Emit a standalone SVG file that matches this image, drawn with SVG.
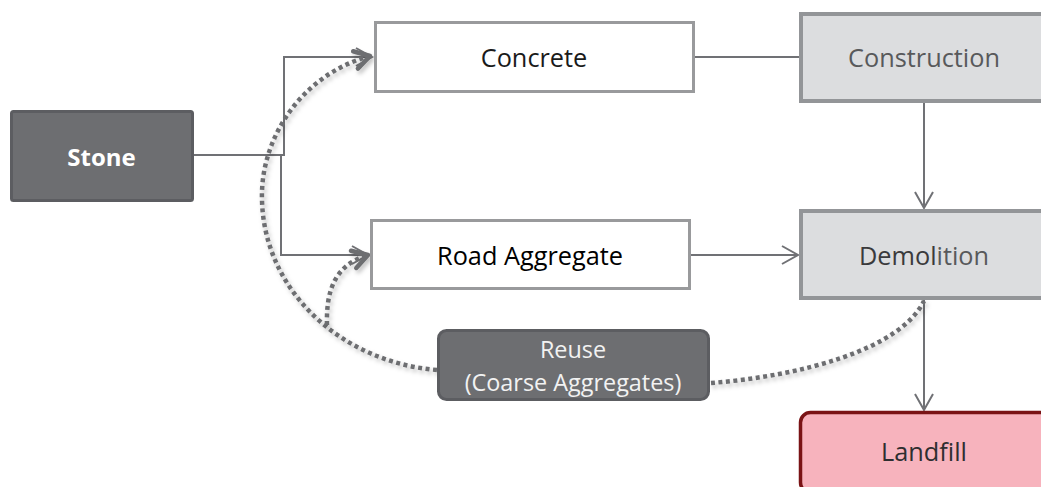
<svg xmlns="http://www.w3.org/2000/svg" width="1041" height="487" viewBox="0 0 1041 487">
  <defs>
    <style>
      .lbl { font-family: "Open Sans", "Liberation Sans", sans-serif; font-size: 25.3px; text-anchor: middle; }
      .lbl.small { font-size: 23.4px; }
      .lbl.bold { font-size: 24px; font-weight: bold; }
      .white { fill: #ffffff; stroke: #999a9c; stroke-width: 3; }
      .grey { fill: #dcdddf; stroke: #939598; stroke-width: 4; }
      .dark { fill: #6d6e71; stroke: #5c5d61; stroke-width: 3; }
      .link { fill: none; stroke: #707175; stroke-width: 2; }
      .flow { fill: none; stroke: #6d6e71; stroke-width: 4.5; stroke-dasharray: 4 3.5; filter: url(#shade); }
    </style>
    <filter id="shade" x="-20%" y="-20%" width="140%" height="140%">
      <feDropShadow dx="2" dy="3" stdDeviation="2" flood-color="#000" flood-opacity="0.25"/>
    </filter>
    <marker id="arrow" markerUnits="userSpaceOnUse" markerWidth="24" markerHeight="24" refX="17" refY="10" orient="auto">
      <path d="M1,1 L17,10 L1,19" fill="none" stroke="#707175" stroke-width="2"/>
    </marker>
    <marker id="arrowBold" markerUnits="userSpaceOnUse" markerWidth="26" markerHeight="26" refX="18" refY="12" orient="auto">
      <path d="M3,3 L18,12 L3,21" fill="none" stroke="#6d6e71" stroke-width="4.5" stroke-linecap="round" stroke-linejoin="round"/>
    </marker>
  </defs>

  <rect width="1041" height="487" fill="#ffffff"/>

  <!-- connectors -->
  <g id="connectors">
    <path class="link" d="M193,155 H284 V57 H372" marker-end="url(#arrow)"/>
    <path class="link" d="M281,155 V255 H368" marker-end="url(#arrow)"/>
    <path class="link" d="M694,57 H799"/>
    <path class="link" d="M924,102 V208" marker-end="url(#arrow)"/>
    <path class="link" d="M690,255 H798" marker-end="url(#arrow)"/>
    <path class="link" d="M924,299 V410" marker-end="url(#arrow)"/>
    <path class="flow" d="M437,370 C340,362 264,290 262,200 C260,140 300,75 370,56" marker-end="url(#arrowBold)"/>
    <path class="flow" d="M327,325 C326,290 335,265 368,255" marker-end="url(#arrowBold)"/>
    <path class="flow" d="M711,383 C800,376 900,350 924,301"/>
  </g>

  <g id="stone">
    <rect class="dark" x="11.5" y="111.5" width="181" height="89" rx="2"/>
    <text class="lbl bold" x="101.5" y="166" fill="#ffffff">Stone</text>
  </g>

  <g id="concrete">
    <rect class="white" x="375.5" y="22.5" width="318" height="69"/>
    <text class="lbl" x="534" y="67" fill="#1a1a1a">Concrete</text>
  </g>

  <g id="construction">
    <rect class="grey" x="801" y="14" width="245" height="87"/>
    <text class="lbl" x="924" y="67" fill="#58595b">Construction</text>
  </g>

  <g id="road-aggregate">
    <rect class="white" x="371.5" y="220.5" width="318" height="68"/>
    <text class="lbl" x="530" y="265" fill="#000000">Road Aggregate</text>
  </g>

  <g id="demolition">
    <rect class="grey" x="801" y="211" width="245" height="87"/>
    <text class="lbl" x="924" y="265" fill="#58595b"><tspan fill="#3a3a3c">Demol</tspan>ition</text>
  </g>

  <g id="reuse">
    <rect class="dark" x="438.5" y="330.5" width="270" height="69" rx="8"/>
    <text class="lbl small" x="573" y="358" fill="#f2f2f2">Reuse</text>
    <text class="lbl small" x="573" y="391" fill="#f2f2f2">(Coarse Aggregates)</text>
  </g>

  <g id="landfill">
    <rect x="800.5" y="412.5" width="250" height="80" rx="10" fill="#f7b3bd" stroke="#7a1315" stroke-width="3.5"/>
    <text class="lbl" x="924" y="461" fill="#2e2e30">Landfill</text>
  </g>
</svg>
